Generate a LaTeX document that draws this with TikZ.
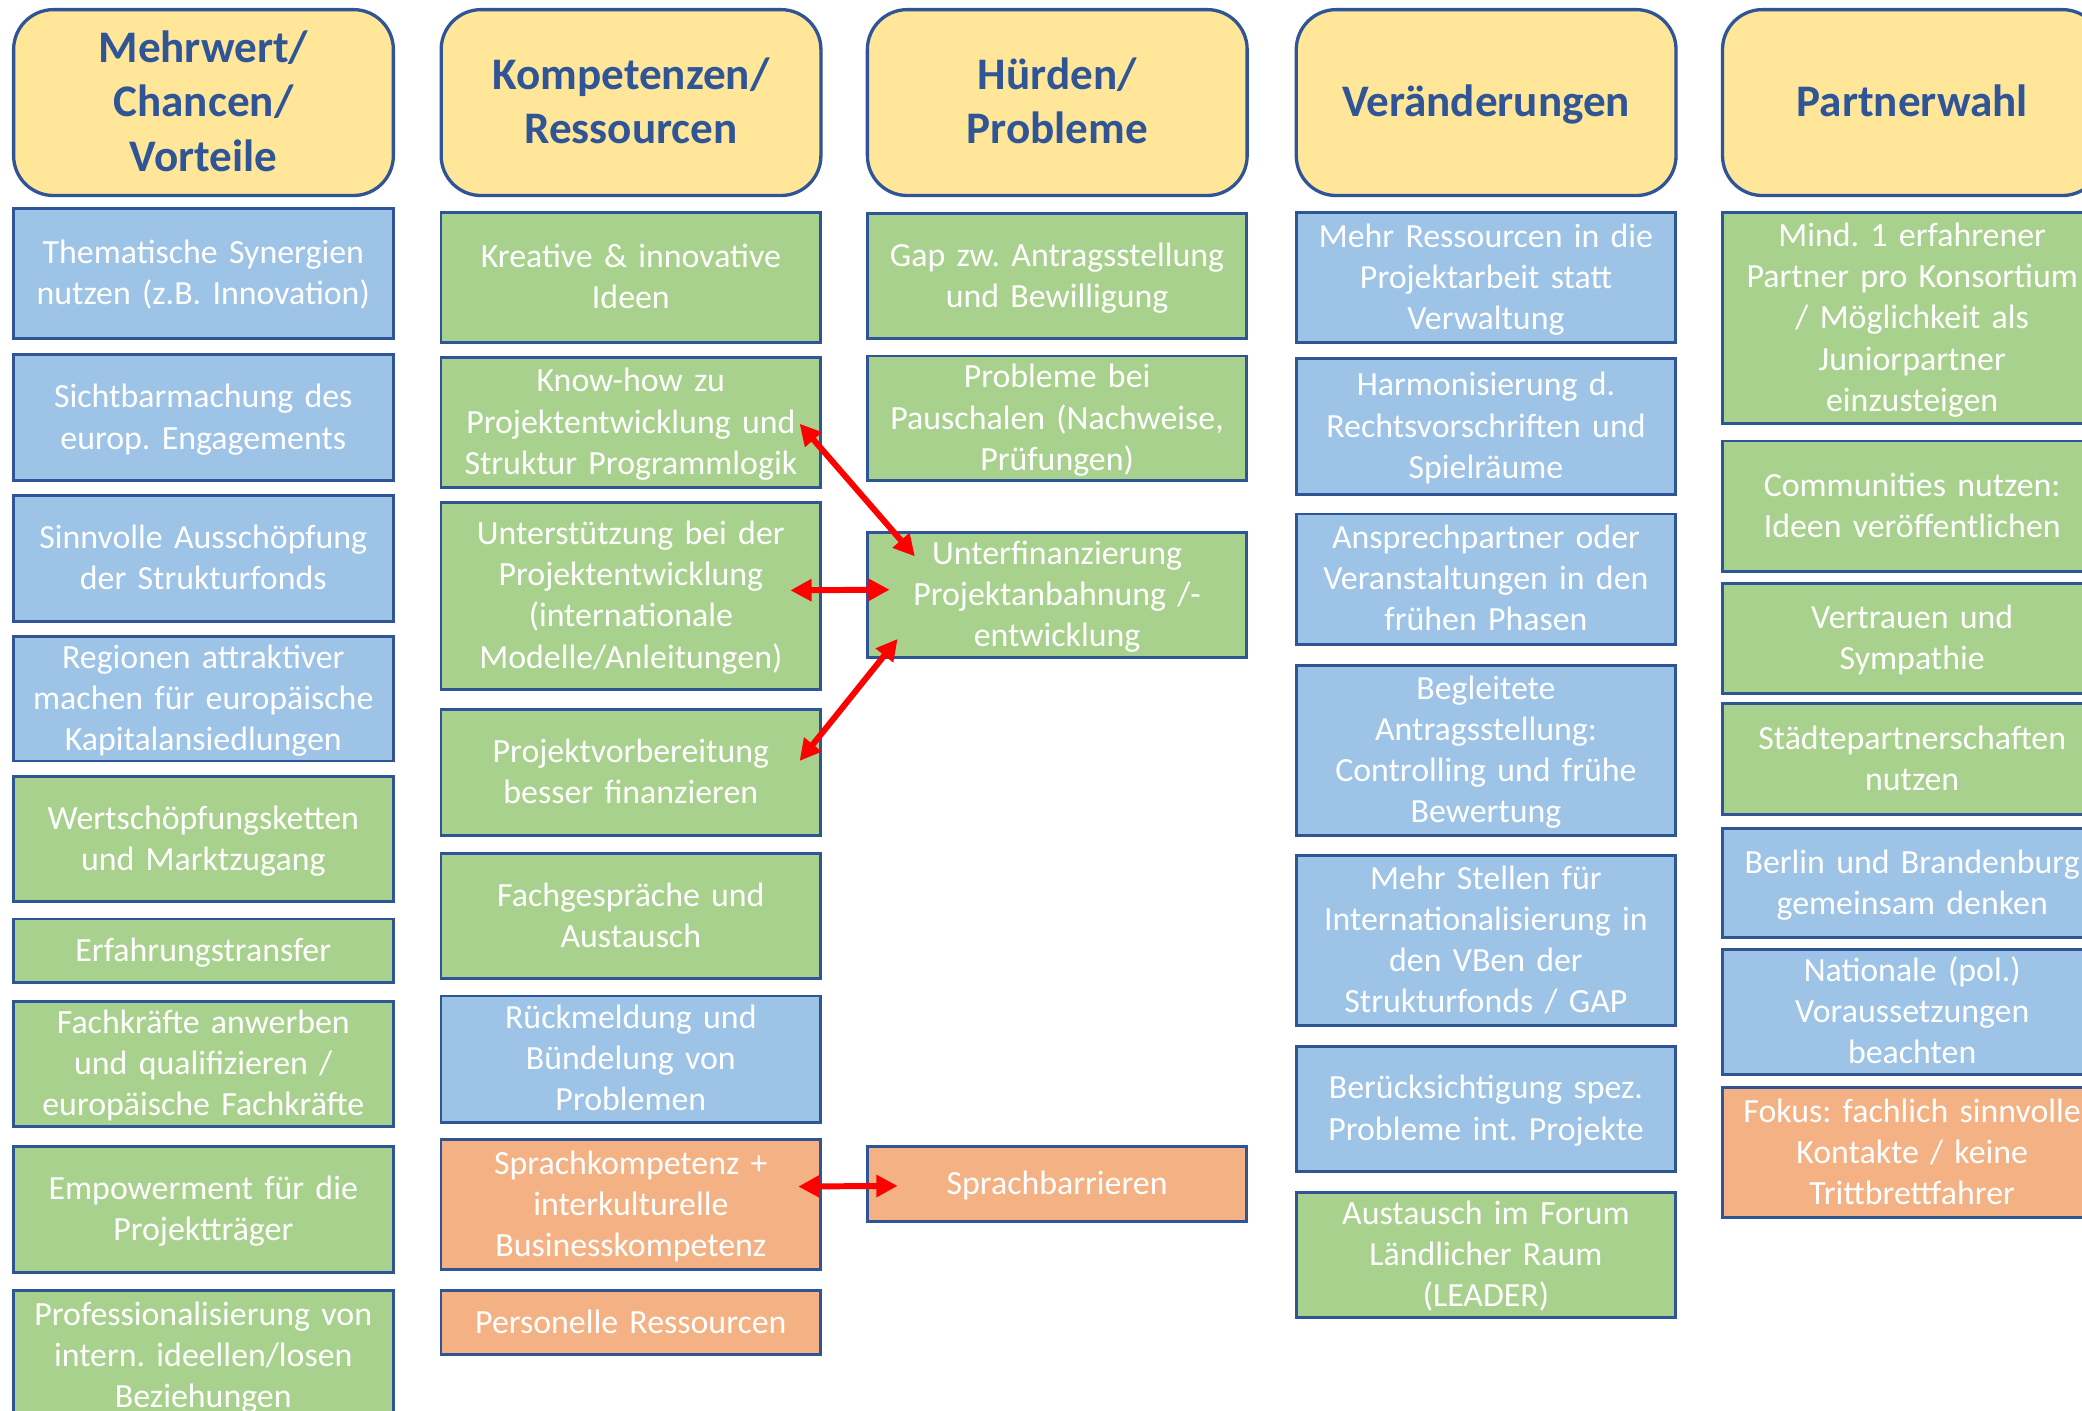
\documentclass[tikz,border=0pt]{standalone}
\usepackage{fontspec}
\setmainfont{Carlito}
\frenchspacing
\usetikzlibrary{arrows.meta}
\definecolor{rahmen}{HTML}{2F5597}
\definecolor{kopfgelb}{HTML}{FFE699}
\definecolor{hellblau}{HTML}{9DC3E6}
\definecolor{hellgruen}{HTML}{A9D18E}
\definecolor{lachs}{HTML}{F4B183}
\newcommand\zeile{\rule[-0.24\baselineskip]{0pt}{\baselineskip}}
\tikzset{
  kopf/.style={draw=rahmen, line width=2.5pt, fill=kopfgelb, rounded corners=30pt, anchor=north west,
    minimum width=286pt, minimum height=140pt, text width=280pt, align=center, inner sep=0pt,
    text=rahmen, font=\fontsize{34}{41}\selectfont\bfseries,
    execute at begin node=\zeile, execute at end node=\zeile},
  kasten/.style={draw=rahmen, line width=2.2pt, anchor=north west, minimum width=286pt,
    text width=282pt, align=center, inner sep=0pt, text=white, font=\fontsize{25.5}{31}\selectfont,
    execute at begin node=\zeile, execute at end node=\zeile},
  blaubox/.style={kasten, fill=hellblau},
  gruenbox/.style={kasten, fill=hellgruen},
  orangebox/.style={kasten, fill=lachs},
  pfeil/.style={red, line width=4.5pt, {Triangle[length=16pt,width=16pt]}-{Triangle[length=16pt,width=16pt]}}
}
\begin{document}
\begin{tikzpicture}[x=1pt,y=-1pt]
\useasboundingbox[fill=white] (0,0) rectangle (1568,1062);

\node[kopf] (kMw) at (9,6) {Mehrwert/\\Chancen/\\Vorteile};
\node[kopf] (kKo) at (331,6) {Kompetenzen/\\Ressourcen};
\node[kopf] (kHu) at (652,6) {Hürden/\\Probleme};
\node[kopf] (kVe) at (975,6) {Veränderungen};
\node[kopf] (kPa) at (1296,6) {Partnerwahl};

\node[blaubox, minimum height=98pt] (mw1) at (9,156) {Thematische Synergien\\nutzen (z.B. Innovation)};
\node[blaubox, minimum height=95pt] (mw2) at (9,266) {Sichtbarmachung des\\europ. Engagements};
\node[blaubox, minimum height=95pt] (mw3) at (9,372) {Sinnvolle Ausschöpfung\\der Strukturfonds};
\node[blaubox, minimum height=94pt] (mw4) at (9,478) {Regionen attraktiver\\machen für europäische\\Kapitalansiedlungen};
\node[gruenbox, minimum height=94pt] (mw5) at (9,584) {Wertschöpfungsketten\\und Marktzugang};
\node[gruenbox, minimum height=48pt] (mw6) at (9,691) {Erfahrungstransfer};
\node[gruenbox, minimum height=94pt] (mw7) at (9,753) {Fachkräfte anwerben\\und qualifizieren /\\europäische Fachkräfte};
\node[gruenbox, minimum height=95pt] (mw8) at (9,862) {Empowerment für die\\Projektträger};
\node[gruenbox, minimum height=98pt] (mw9) at (9,971) {Professionalisierung von\\intern. ideellen/losen\\Beziehungen};

\node[gruenbox, minimum height=98pt] (ko1) at (331,159) {Kreative \& innovative\\Ideen};
\node[gruenbox, minimum height=98pt] (ko2) at (331,268) {Know-how zu\\Projektentwicklung und\\Struktur Programmlogik};
\node[gruenbox, minimum height=141pt] (ko3) at (331,377) {Unterstützung bei der\\Projektentwicklung\\(internationale\\Modelle/Anleitungen)};
\node[gruenbox, minimum height=95pt] (ko4) at (331,533) {Projektvorbereitung\\besser finanzieren};
\node[gruenbox, minimum height=94pt] (ko5) at (331,642) {Fachgespräche und\\Austausch};
\node[blaubox, minimum height=95pt] (ko6) at (331,749) {Rückmeldung und\\Bündelung von\\Problemen};
\node[orangebox, minimum height=98pt] (ko7) at (331,857) {Sprachkompetenz +\\interkulturelle\\Businesskompetenz};
\node[orangebox, minimum height=48pt] (ko8) at (331,971) {Personelle Ressourcen};

\node[gruenbox, minimum height=94pt] (hu1) at (652,160) {Gap zw. Antragsstellung\\und Bewilligung};
\node[gruenbox, minimum height=94pt] (hu2) at (652,267) {Probleme bei\\Pauschalen (Nachweise,\\Prüfungen)};
\node[gruenbox, minimum height=94pt] (hu3) at (652,400) {Unterfinanzierung\\Projektanbahnung /-\\entwicklung};
\node[orangebox, minimum height=57pt] (hu4) at (652,862) {Sprachbarrieren};

\node[blaubox, minimum height=98pt] (ve1) at (975,159) {Mehr Ressourcen in die\\Projektarbeit statt\\Verwaltung};
\node[blaubox, minimum height=102pt] (ve2) at (975,269) {Harmonisierung d.\\Rechtsvorschriften und\\Spielräume};
\node[blaubox, minimum height=98pt] (ve3) at (975,386) {Ansprechpartner oder\\Veranstaltungen in den\\frühen Phasen};
\node[blaubox, minimum height=128pt] (ve4) at (975,500) {Begleitete\\Antragsstellung:\\Controlling und frühe\\Bewertung};
\node[blaubox, minimum height=128pt] (ve5) at (975,643) {Mehr Stellen für\\Internationalisierung in\\den VBen der\\Strukturfonds / GAP};
\node[blaubox, minimum height=94pt] (ve6) at (975,787) {Berücksichtigung spez.\\Probleme int. Projekte};
\node[gruenbox, minimum height=94pt] (ve7) at (975,897) {Austausch im Forum\\Ländlicher Raum\\(LEADER)};

\node[gruenbox, minimum height=159pt] (pa1) at (1296,159) {Mind. 1 erfahrener\\Partner pro Konsortium\\/ Möglichkeit als\\Juniorpartner\\einzusteigen};
\node[gruenbox, minimum height=98pt] (pa2) at (1296,331) {Communities nutzen:\\Ideen veröffentlichen};
\node[gruenbox, minimum height=83pt] (pa3) at (1296,438) {Vertrauen und\\Sympathie};
\node[gruenbox, minimum height=83pt] (pa4) at (1296,529) {Städtepartnerschaften\\nutzen};
\node[blaubox, minimum height=82pt] (pa5) at (1296,623) {Berlin und Brandenburg\\gemeinsam denken};
\node[blaubox, minimum height=94pt] (pa6) at (1296,714) {Nationale (pol.)\\Voraussetzungen\\beachten};
\node[orangebox, minimum height=98pt] (pa7) at (1296,818) {Fokus: fachlich sinnvolle\\Kontakte / keine\\Trittbrettfahrer};

\draw[pfeil] ([xshift=-17pt,yshift=-1pt]ko2.east) -- ([xshift=37pt,yshift=-19pt]hu3.north west);
\draw[pfeil] ([xshift=-24pt,yshift=4pt]ko3.east) -- ([xshift=18pt,yshift=4pt]hu3.west);
\draw[pfeil] ([xshift=24pt,yshift=15pt]hu3.south west) -- ([xshift=-17pt,yshift=8.5pt]ko4.east);
\draw[pfeil] ([xshift=-18pt,yshift=13.5pt]ko7.east) -- ([xshift=24pt,yshift=-1.5pt]hu4.west);
\end{tikzpicture}
\end{document}
